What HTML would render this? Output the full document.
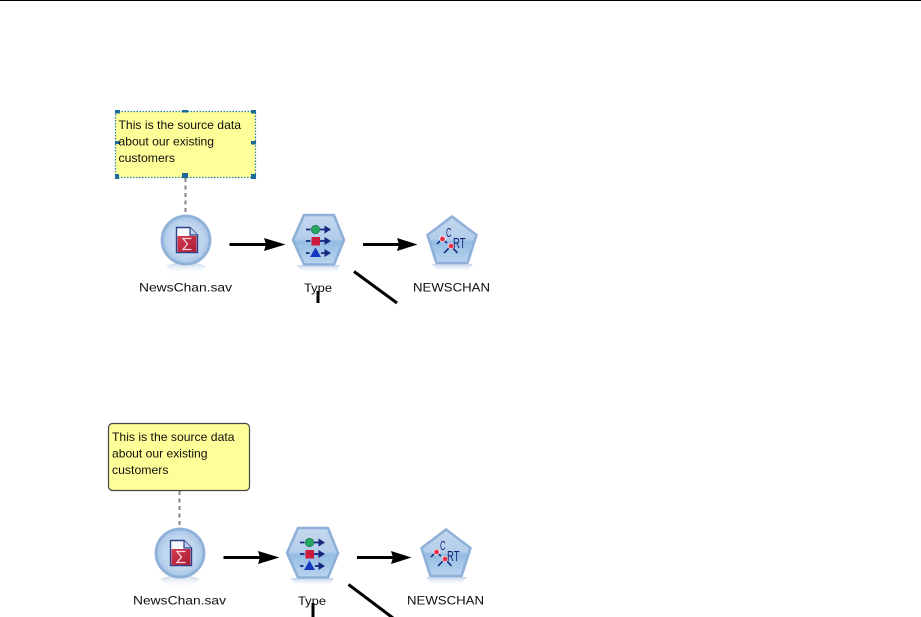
<!DOCTYPE html>
<html lang="en">
<head>
<meta charset="utf-8">
<title>Stream diagram</title>
<style>
html,body{margin:0;padding:0;background:#fff;width:921px;height:617px;overflow:hidden}
svg{display:block}
text{font-family:"Liberation Sans",Arial,sans-serif;font-size:12px;fill:#111}
</style>
</head>
<body>
<svg width="921" height="617" viewBox="0 0 921 617" xmlns="http://www.w3.org/2000/svg">
<defs>
<linearGradient id="body" x1="0" y1="0" x2="0" y2="1">
  <stop offset="0" stop-color="#c4d8ef"/>
  <stop offset=".48" stop-color="#b4cdea"/>
  <stop offset=".54" stop-color="#93bde3"/>
  <stop offset="1" stop-color="#b9d4ee"/>
</linearGradient>
<radialGradient id="ball" cx=".5" cy=".5" r=".5">
  <stop offset="0" stop-color="#cfe0f3"/>
  <stop offset=".7" stop-color="#bed5ee"/>
  <stop offset="1" stop-color="#a6c4e6"/>
</radialGradient>
<linearGradient id="refl" x1="0" y1="0" x2="0" y2="1">
  <stop offset="0" stop-color="#b5cbe6" stop-opacity=".85"/>
  <stop offset="1" stop-color="#ffffff" stop-opacity="0"/>
</linearGradient>
<linearGradient id="red" x1="0" y1="0" x2="1" y2="1">
  <stop offset="0" stop-color="#d63a4c"/>
  <stop offset="1" stop-color="#a81c38"/>
</linearGradient>
<filter id="soft" x="-5%" y="-5%" width="110%" height="110%"><feGaussianBlur stdDeviation="0.35"/></filter>

<g id="scene">
  <!-- dashed link -->
  <line x1="185.500" y1="178" x2="185.500" y2="214" stroke="#858585" stroke-width="2" stroke-dasharray="4 3.500"/>

  <!-- source node -->
  <path d="M166 266Q186 258 206 266L198 275H174Z" fill="url(#refl)"/>
  <circle cx="186" cy="240" r="24" fill="url(#ball)" stroke="#8fb0d8" stroke-width="2.800"/>
  <path d="M176.500 227.500H190L197.500 235V252.500H176.500Z" fill="#f6f8fc" stroke="#2f3f88" stroke-width="1.400"/>
  <path d="M190 227.500V235H197.500" fill="#bcd2ee" stroke="#2f3f88" stroke-width="1.200"/>
  <rect x="177.500" y="236" width="19" height="16" fill="url(#red)"/>
  <path d="M191.500 238.500H183L187.500 244L183 249.500H191.500" fill="none" stroke="#f3d3d8" stroke-width="1.300"/>

  <!-- type node -->
  <path d="M297 265H340L335 274H303Z" fill="url(#refl)"/>
  <polygon points="304,215 334,215 344,240 334,264.500 304,264.500 293,240" fill="url(#body)" stroke="#8fb0d8" stroke-width="2.600" stroke-linejoin="round"/>
  <g stroke="#14287f" stroke-width="1.800" fill="none">
    <path d="M306 229.500H310.500M320 229.500H326"/>
    <path d="M306 241H310.500M320 241H326"/>
    <path d="M306 253H309.500M321 253H326"/>
  </g>
  <g fill="#14287f">
    <polygon points="324.500,225.500 331,229.500 324.500,233.500"/>
    <polygon points="324.500,237 331,241 324.500,245"/>
    <polygon points="324.500,249 331,253 324.500,257"/>
  </g>
  <circle cx="315.500" cy="229.500" r="4.200" fill="#27a564" stroke="#14703e" stroke-width=".7"/>
  <rect x="311.500" y="237" width="8.500" height="8.500" fill="#cc1f3d"/>
  <polygon points="315.500,247.500 321,257 310,257" fill="#1438c0"/>

  <!-- CRT node -->
  <path d="M432 264H473L466 273H439Z" fill="url(#refl)"/>
  <polygon points="452,216.500 476.500,235 467.500,263 436.500,263 427.500,235" fill="url(#body)" stroke="#8fb0d8" stroke-width="2.600" stroke-linejoin="round"/>
  <g stroke="#14247a" stroke-width="1.500" fill="none">
    <path d="M437 244L442 239L447 243"/>
    <path d="M444 253L451 246L457.500 253"/>
  </g>
  <circle cx="442.500" cy="239" r="2.800" fill="#e8324a" stroke="#fff" stroke-width=".7"/>
  <circle cx="451" cy="246" r="2.800" fill="#e8324a" stroke="#fff" stroke-width=".7"/>
  <text x="446" y="237" style="font-size:13px;fill:#14247a" textLength="5.500" lengthAdjust="spacingAndGlyphs">C</text>
  <text x="453" y="248" style="font-size:15px;fill:#14247a" textLength="12.500" lengthAdjust="spacingAndGlyphs">RT</text>

  <!-- arrows -->
  <line x1="229.500" y1="244.500" x2="268" y2="244.500" stroke="#000" stroke-width="3"/>
  <polygon points="264,238 285.500,244.500 264,251 266,244.500" fill="#000"/>
  <line x1="363" y1="244.500" x2="401" y2="244.500" stroke="#000" stroke-width="3"/>
  <polygon points="397,238 417.500,244.500 397,251 399,244.500" fill="#000"/>

  <!-- labels -->
  <text x="139" y="291.500" textLength="93" lengthAdjust="spacingAndGlyphs">NewsChan.sav</text>
  <text x="304" y="292" textLength="28" lengthAdjust="spacingAndGlyphs">Type</text>
  <text x="413" y="291.500" textLength="77" lengthAdjust="spacingAndGlyphs">NEWSCHAN</text>
</g>
</defs>

<!-- top rule -->
<rect x="0" y="0" width="921" height="1" fill="#000"/>

<!-- Upper scene -->
<g filter="url(#soft)">
<use href="#scene"/>
<line x1="318" y1="291" x2="318" y2="303" stroke="#000" stroke-width="3"/>
<line x1="354" y1="271.500" x2="397" y2="303" stroke="#000" stroke-width="3"/>

<!-- Upper comment, selected -->
<rect x="115.500" y="111.500" width="140" height="66" fill="#ffff99" stroke="#2b80a8" stroke-width="1.200" stroke-dasharray="1.500 1.500"/>
<g fill="#1f6a98">
  <rect x="115" y="110" width="5" height="3.500"/><rect x="182" y="110" width="6" height="2.500"/><rect x="251" y="110" width="5" height="3.500"/>
  <rect x="115" y="141" width="5" height="3"/><rect x="251" y="141" width="5" height="3.500"/>
  <rect x="115" y="174" width="4" height="5"/><rect x="182" y="173" width="6" height="5"/><rect x="251" y="174" width="5" height="5"/>
</g>
<text x="118.500" y="129" textLength="122.500" lengthAdjust="spacingAndGlyphs">This is the source data</text>
<text x="118.500" y="145.500" textLength="95.500" lengthAdjust="spacingAndGlyphs">about our existing</text>
<text x="118.500" y="162" textLength="56.500" lengthAdjust="spacingAndGlyphs">customers</text>

<!-- Lower scene -->
<use href="#scene" x="-6" y="313"/>
<line x1="313" y1="603" x2="313" y2="617" stroke="#000" stroke-width="3"/>
<line x1="348.500" y1="584.500" x2="393" y2="618" stroke="#000" stroke-width="3"/>

<!-- Lower comment -->
<rect x="108.500" y="423.500" width="141" height="67" rx="4" ry="4" fill="#ffff99" stroke="#444" stroke-width="1.200"/>
<text x="112" y="441" textLength="122.500" lengthAdjust="spacingAndGlyphs">This is the source data</text>
<text x="112" y="457.500" textLength="95.500" lengthAdjust="spacingAndGlyphs">about our existing</text>
<text x="112" y="474" textLength="56.500" lengthAdjust="spacingAndGlyphs">customers</text>
</g>
</svg>
</body>
</html>
